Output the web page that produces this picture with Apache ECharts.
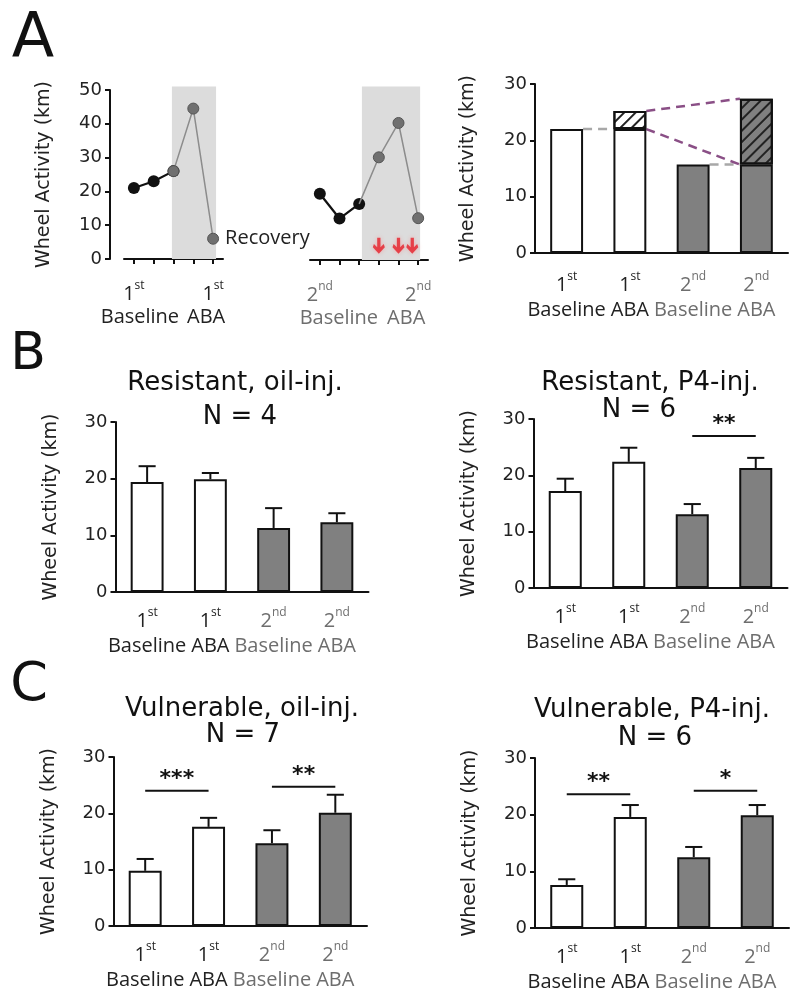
<!DOCTYPE html>
<html><head><meta charset="utf-8">
<script src="https://cdn.jsdelivr.net/npm/echarts@6/dist/echarts.min.js"></script>
<style>html,body{margin:0;padding:0;background:#fff}#c{width:800px;height:1003px}</style>
</head><body><div id="c"></div>
<script>
// ---------------- DATA ----------------
// Panel A (left): daily wheel activity, first and second exposure
const aSeg1Values = [21, 23, 26, 44.5, 6];
const aSeg1Ordinals = ['1st', '', '', '', '1st'];
const aSeg1Phases = ['Baseline', '', '', '', 'ABA'];
const aSeg1GraySymbolFrom = 2;
const aSeg1Shade = [1.92, 4.15];
const aSeg1LastLabel = 'Recovery';

const aSeg2Values = [19.5, 12.2, 16.5, 30.2, 40.3, 12.3];
const aSeg2Ordinals = ['2nd', '', '', '', '', '2nd'];
const aSeg2Phases = ['Baseline', '', '', '', '', 'ABA'];
const aSeg2GraySymbolFrom = 3;
const aSeg2Shade = [2.14, 5.1];
const aSeg2Injections = [3, 4, 4.7];
const aInjectionArrowLevel = 4.2;

// Bar categories
const barOrdinals = ['1st', '1st', '2nd', '2nd'];
const barPhases = ['Baseline', 'ABA', 'Baseline', 'ABA'];

// Panel A (right): schematic bars
const aRightBase = [22, 22, 15.7, 15.7];
const aRightIncrease = [null, 3.2, null, 11.7];

// Panel B
const bOilMean = [19.4, 19.9, 11.3, 12.3];
const bOilSem = [2.8, 1.1, 3.5, 1.6];
const bP4Mean = [17.2, 22.4, 13.1, 21.3];
const bP4Sem = [2.2, 2.5, 1.8, 1.8];
const bP4Sig = [[2, 3, 27.0, '**']];

// Panel C
const cOilMean = [9.8, 17.6, 14.7, 20.1];
const cOilSem = [2.1, 1.6, 2.3, 3.2];
const cOilSig = [[0, 1, 24.0, '***'], [2, 3, 24.7, '**']];
const cP4Mean = [7.6, 19.6, 12.5, 19.9];
const cP4Sem = [1.0, 2.1, 1.8, 1.8];
const cP4Sig = [[0, 1, 23.6, '**'], [2, 3, 24.2, '*']];

const yTitle = 'Wheel Activity (km)';

// ---------------- STYLE / LAYOUT ----------------
const INK = '#111';
const GRAY_BAR = '#808080';
const GRAY_TEXT = '#6e6e6e';
const NUM_FONT = 'DejaVu Sans';
const CAT_FONT = 'Open Sans';

function richSet() {
  const r = {};
  [['1', '#222'], ['2', GRAY_TEXT]].forEach(([k, c]) => {
    r['n' + k] = {fontFamily: CAT_FONT, fontSize: 20, color: c, lineHeight: 28};
    r['s' + k] = {fontFamily: CAT_FONT, fontSize: 12, color: c, lineHeight: 14, verticalAlign: 'top'};
    r['w' + k] = {fontFamily: CAT_FONT, fontSize: 20, color: c, lineHeight: 22};
  });
  return r;
}
function ordLabel(ord, phase, tone) {
  if (!ord) return '';
  const num = ord.match(/^\d+/)[0];
  const suf = ord.slice(num.length);
  return `{n${tone}|${num}}{s${tone}|${suf}}\n{w${tone}|${phase}}`;
}

const grids = [
  {left: 124, top: 90, width: 99, height: 169},     // 0 A seg1
  {left: 310, top: 90, width: 118, height: 170},    // 1 A seg2
  {left: 535, top: 84, width: 253, height: 169},    // 2 A right
  {left: 115.5, top: 422, width: 253, height: 170}, // 3 B left
  {left: 533.5, top: 419, width: 254, height: 169}, // 4 B right
  {left: 113.5, top: 757, width: 253.5, height: 169}, // 5 C left
  {left: 535, top: 758, width: 254, height: 170}    // 6 C right
];

const xAxes = [];
const yAxes = [];
const series = [];
function addX(cfg) { xAxes.push(cfg); return xAxes.length - 1; }

function yAxisCfg(g, max, opts) {
  return Object.assign({
    type: 'value', gridIndex: g, min: 0, max: max, interval: 10,
    axisLine: {show: true, onZero: false, lineStyle: {color: INK, width: 2}},
    axisTick: {show: true, length: 5, lineStyle: {color: INK, width: 2}},
    axisLabel: {fontFamily: NUM_FONT, fontSize: 18, color: '#222', margin: 8},
    splitLine: {show: false},
    name: yTitle, nameLocation: 'middle', nameRotate: 90, nameGap: 55,
    nameTextStyle: {fontFamily: NUM_FONT, fontSize: 19, color: '#222'}
  }, opts || {});
}

function catAxis(g, n, labelFn, margin, ticks) {
  return {
    type: 'category', gridIndex: g, data: Array.from({length: n}, (_, i) => 'c' + i),
    axisLine: {show: true, onZero: false, lineStyle: {color: INK, width: 2}},
    axisTick: {show: !!ticks, alignWithLabel: true, interval: 0, length: 5, lineStyle: {color: INK, width: 2}},
    axisLabel: {interval: 0, margin: margin, formatter: (v, i) => labelFn(i), rich: richSet(), align: 'center'},
    splitLine: {show: false}
  };
}
function valAxis(g, n) {
  return {type: 'value', gridIndex: g, min: -0.5, max: n - 0.5, show: false,
    axisLine: {onZero: false}};
}

// ---------- Panel A left ----------
function linePanel(g, values, ords, phases, grayFrom, shade, lastLabel, wPad) {
  const n = values.length;
  const cx = addX(catAxis(g, n, i => {
    if (!ords[i]) return '';
    const num = ords[i].match(/^\d+/)[0];
    const suf = ords[i].slice(num.length);
    const tone = num === '1' ? '1' : '2';
    return `{n${tone}|${num}}{s${tone}|${suf}}\n{p${i}|${phases[i]}}`;
  }, 21, true));
  const rich = xAxes[cx].axisLabel.rich;
  ords.forEach((o, i) => {
    if (!o) return;
    const tone = o[0] === '1' ? '#222' : GRAY_TEXT;
    rich['p' + i] = {fontFamily: CAT_FONT, fontSize: 20, color: tone, lineHeight: 18, padding: wPad[i] || [0, 0, 0, 0]};
  });
  const vx = addX(valAxis(g, n));
  const blackData = values.map((v, i) => i <= 2 ? v : '-');
  const grayData = values.map((v, i) => {
    if (i < 2) return '-';
    const item = {value: v};
    if (i < grayFrom) item.symbol = 'none';
    if (i === n - 1 && lastLabel) item.label = {show: true, position: 'right', distance: 6, formatter: lastLabel,
      fontFamily: CAT_FONT, fontSize: 20, color: '#222'};
    return item;
  });
  series.push({type: 'custom', xAxisIndex: vx, yAxisIndex: g, z: 1, silent: true,
    data: [[shade[0], shade[1], 51]],
    renderItem: (p, api) => {
      const a = api.coord([api.value(0), 0]);
      const b = api.coord([api.value(1), api.value(2)]);
      return {type: 'rect', shape: {x: a[0], y: b[1], width: b[0] - a[0], height: a[1] - b[1]},
        style: {fill: '#dcdcdc'}};
    }});
  series.push({type: 'line', xAxisIndex: cx, yAxisIndex: g, z: 3, data: blackData,
    symbol: 'circle', symbolSize: 12, itemStyle: {color: INK}, lineStyle: {color: INK, width: 2.2}, silent: true, animation: false});
  series.push({type: 'line', xAxisIndex: cx, yAxisIndex: g, z: 4, data: grayData,
    symbol: 'circle', symbolSize: 11, itemStyle: {color: '#707070', borderColor: '#555', borderWidth: 1},
    lineStyle: {color: '#8c8c8c', width: 1.5}, silent: true, animation: false});
  return {cx, vx};
}

yAxes.push(yAxisCfg(0, 50, {offset: 14, nameGap: 56}));
linePanel(0, aSeg1Values, aSeg1Ordinals, aSeg1Phases, aSeg1GraySymbolFrom, aSeg1Shade, aSeg1LastLabel,
  {0: [0, 0, 0, 12], 4: [0, 14, 0, 0]});
yAxes.push(yAxisCfg(1, 50, {show: false}));
const seg2 = linePanel(1, aSeg2Values, aSeg2Ordinals, aSeg2Phases, aSeg2GraySymbolFrom, aSeg2Shade, null,
  {0: [0, 0, 0, 38], 5: [0, 24, 0, 0]});
series.push({type: 'scatter', xAxisIndex: seg2.vx, yAxisIndex: 1, z: 5, silent: true,
  data: aSeg2Injections.map(d => [d, aInjectionArrowLevel]),
  symbol: 'path://M4,0 L7,0 L7,9 L10,6 L11,9 L5.5,15 L0,9 L1,6 L4,9 Z', symbolSize: [12, 16],
  itemStyle: {color: '#e5202a', shadowColor: 'rgba(255,120,120,0.6)', shadowBlur: 4}});

// ---------- Bar panels ----------
function barCatAxis(g, margin) {
  return catAxis(g, 4, i => ordLabel(barOrdinals[i], barPhases[i], barOrdinals[i][0] === '1' ? '1' : '2'), margin, false);
}
function barItems(values) {
  return values.map((v, i) => v == null ? '-' : ({value: v, itemStyle: {color: i < 2 ? '#fff' : GRAY_BAR}}));
}
function errorSeries(vx, g, means, sems) {
  return {type: 'custom', xAxisIndex: vx, yAxisIndex: g, z: 5, silent: true,
    data: means.map((m, i) => [i, m, m + sems[i]]),
    renderItem: (p, api) => {
      const a = api.coord([api.value(0), api.value(1)]);
      const b = api.coord([api.value(0), api.value(2)]);
      const w = api.size([1, 0])[0] * 0.27;
      const st = {stroke: INK, lineWidth: 2};
      return {type: 'group', children: [
        {type: 'line', shape: {x1: a[0], y1: a[1], x2: b[0], y2: b[1]}, style: st},
        {type: 'line', shape: {x1: b[0] - w / 2, y1: b[1], x2: b[0] + w / 2, y2: b[1]}, style: st}
      ]};
    }};
}
function sigSeries(vx, g, sig) {
  return {type: 'custom', xAxisIndex: vx, yAxisIndex: g, z: 5, silent: true,
    data: sig.map(s => [s[0], s[1], s[2]]),
    renderItem: (p, api) => {
      const a = api.coord([api.value(0), api.value(2)]);
      const b = api.coord([api.value(1), api.value(2)]);
      const txt = sig[p.dataIndex][3];
      return {type: 'group', children: [
        {type: 'line', shape: {x1: a[0], y1: a[1], x2: b[0], y2: b[1]}, style: {stroke: INK, lineWidth: 2}},
        {type: 'text', x: (a[0] + b[0]) / 2, y: a[1] - 1,
          style: {text: txt, fill: INK, fontFamily: NUM_FONT, fontSize: 22, fontWeight: 'bold',
            textAlign: 'center', textVerticalAlign: 'bottom', align: 'center', verticalAlign: 'bottom'}}
      ]};
    }};
}
function barPanel(g, means, sems, sig, margin) {
  yAxes.push(yAxisCfg(g, 30));
  const cx = addX(barCatAxis(g, margin));
  const vx = addX(valAxis(g, 4));
  series.push({type: 'bar', xAxisIndex: cx, yAxisIndex: g, barWidth: '52%', z: 3, silent: true,
    data: barItems(means), itemStyle: {borderColor: INK, borderWidth: 2}});
  series.push(errorSeries(vx, g, means, sems));
  if (sig) series.push(sigSeries(vx, g, sig));
}

// Panel A right (stacked, hatched)
yAxes.push(yAxisCfg(2, 30, {nameGap: 57}));
const arCx = addX(barCatAxis(2, 18));
const arVx = addX(valAxis(2, 4));
series.push({type: 'bar', xAxisIndex: arCx, yAxisIndex: 2, stack: 'a', barWidth: '52%', z: 3, silent: true,
  data: barItems(aRightBase), itemStyle: {borderColor: INK, borderWidth: 2}});
series.push({type: 'bar', xAxisIndex: arCx, yAxisIndex: 2, stack: 'a', barWidth: '52%', z: 3, silent: true,
  data: barItems(aRightIncrease),
  itemStyle: {borderColor: INK, borderWidth: 2,
    decal: {symbol: 'rect', symbolSize: 1, color: '#222', dashArrayX: [1, 0], dashArrayY: [1.6, 5.5], rotation: -Math.PI / 4}}});
const aTop = aRightBase.map((b, i) => b + (aRightIncrease[i] || 0));
const connectors = [
  [0, aRightBase[0], 1, aRightBase[1], '#a8a8a8'],
  [2, aRightBase[2], 3, aRightBase[3], '#a8a8a8'],
  [1, aTop[1], 3, aTop[3], '#8a4f86'],
  [1, aRightBase[1], 3, aRightBase[3], '#8a4f86']
];
series.push({type: 'custom', xAxisIndex: arVx, yAxisIndex: 2, z: 2, silent: true,
  data: connectors.map(c => c.slice(0, 4)),
  renderItem: (p, api) => {
    const half = api.size([1, 0])[0] * 0.26;
    const a = api.coord([api.value(0), api.value(1)]);
    const b = api.coord([api.value(2), api.value(3)]);
    return {type: 'line', shape: {x1: a[0] + half, y1: a[1], x2: b[0] - half, y2: b[1]},
      style: {stroke: connectors[p.dataIndex][4], lineWidth: 2.5, lineDash: [9, 6]}};
  }});

barPanel(3, bOilMean, bOilSem, null, 15);
barPanel(4, bP4Mean, bP4Sem, bP4Sig, 15);
barPanel(5, cOilMean, cOilSem, cOilSig, 15);
barPanel(6, cP4Mean, cP4Sem, cP4Sig, 15);

// Titles and panel letters
function txt(text, x, y, size) {
  return {type: 'text', x: x, y: y, silent: true,
    style: {text: text, fill: '#111', fontFamily: NUM_FONT, fontSize: size,
      textAlign: 'center', textVerticalAlign: 'middle', align: 'center', verticalAlign: 'middle'}};
}
const graphics = [
  txt('A', 33, 41, 62), txt('B', 28, 355, 52), txt('C', 29, 686, 54),
  txt('Resistant, oil-inj.', 235, 383, 26), txt('N = 4', 240, 417, 26),
  txt('Resistant, P4-inj.', 650, 383, 26), txt('N = 6', 639, 410, 26),
  txt('Vulnerable, oil-inj.', 242, 709, 26), txt('N = 7', 243, 735, 26),
  txt('Vulnerable, P4-inj.', 652, 710, 26), txt('N = 6', 655, 738, 26)
];

const chart = echarts.init(document.getElementById('c'), null, {renderer: 'canvas'});
chart.setOption({
  backgroundColor: '#fff',
  animation: false,
  grid: grids.map(g => Object.assign({containLabel: false}, g)),
  xAxis: xAxes,
  yAxis: yAxes,
  series: series,
  graphic: graphics
});
</script>
</body></html>
